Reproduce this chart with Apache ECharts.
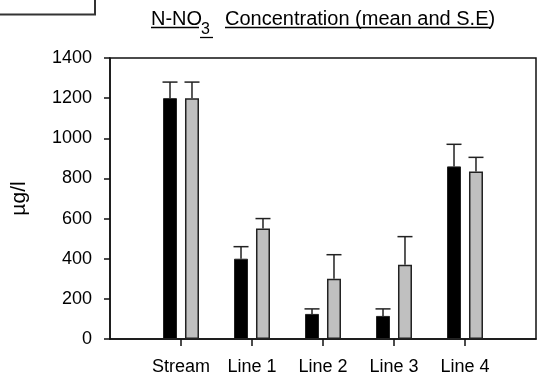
<!DOCTYPE html>
<html>
<head>
  <meta charset="UTF-8">
  <title>N-NO3 Concentration</title>
  <style>
    html, body { margin: 0; padding: 0; background: #fff; }
    #chart { width: 539px; height: 381px; }
  </style>
</head>
<body>
  <div id="chart"></div>
  <script src="https://cdn.jsdelivr.net/npm/echarts@6/dist/echarts.min.js"></script>
  <script>
    // sites along the x axis
    const sites = ['Stream', 'Line 1', 'Line 2', 'Line 3', 'Line 4'];
    // black bars: mean and S.E
    const meanBlack = [1200, 400, 125, 115, 860];
    const seBlack = [80, 60, 25, 35, 110];
    // grey bars: mean and S.E
    const meanGrey = [1200, 550, 300, 370, 835];
    const seGrey = [80, 50, 120, 140, 70];
    const yTicks = [0, 200, 400, 600, 800, 1000, 1200, 1400];

    // one empty slot before and after, like the original frame
    const categories = [''].concat(sites, ['']);

    const font = 'Liberation Sans, Arial, sans-serif';
    const barWidth = 14;
    const barGap = 0.57;
    const shift = barWidth * (1 + barGap) / 2;
    const capWidth = 15;

    function barData(means) {
      return means.map((m, i) => [i + 1, m]);
    }

    function errorSeries(means, errs, dx) {
      return {
        type: 'custom',
        encode: { x: 0, y: 1 },
        z: 1,
        renderItem(params, api) {
          const base = api.coord([api.value(0), api.value(1)]);
          const tip = api.coord([api.value(0), api.value(1) + api.value(2)]);
          const x = base[0] + dx;
          const style = { stroke: '#222', lineWidth: 1.5 };
          return {
            type: 'group',
            children: [
              { type: 'line', shape: { x1: x, y1: base[1], x2: x, y2: tip[1] }, style },
              { type: 'line', shape: { x1: x - capWidth / 2, y1: tip[1], x2: x + capWidth / 2, y2: tip[1] }, style }
            ]
          };
        },
        data: means.map((m, i) => [i + 1, m, errs[i]])
      };
    }

    const chart = echarts.init(document.getElementById('chart'));

    const underline = { stroke: '#000', lineWidth: 1.3 };

    chart.setOption({
      backgroundColor: '#fff',
      animation: false,
      grid: {
        left: 110, right: -2, top: 58, bottom: 42,
        show: true, borderColor: '#111', borderWidth: 1.5
      },
      graphic: [
        // corner of a box cut off at the top left
        { type: 'rect', shape: { x: -5, y: -5, width: 100, height: 19.5 }, style: { fill: 'none', stroke: '#333', lineWidth: 2 } },
        // title with subscript and underline
        { type: 'text', left: 151, top: 9, style: { text: 'N-NO', font: '20px ' + font, fill: '#000' } },
        { type: 'text', left: 201, top: 22, style: { text: '3', font: '16px ' + font, fill: '#000' } },
        { type: 'text', left: 225, top: 9, style: { text: 'Concentration (mean and S.E)', font: '20px ' + font, fill: '#000' } },
        { type: 'line', shape: { x1: 151, y1: 27.5, x2: 199, y2: 27.5 }, style: underline },
        { type: 'line', shape: { x1: 200, y1: 37.5, x2: 213, y2: 37.5 }, style: underline },
        { type: 'line', shape: { x1: 225, y1: 27.5, x2: 491, y2: 27.5 }, style: underline }
      ],
      xAxis: {
        type: 'category',
        data: categories,
        boundaryGap: false,
        axisLine: { lineStyle: { color: '#111', width: 1.5 } },
        axisTick: { length: 7, interval: (i) => i > 0 && i < categories.length - 1, lineStyle: { color: '#111', width: 1.5 } },
        axisLabel: { interval: 0, margin: 19, color: '#000', fontSize: 18, fontFamily: font },
        splitLine: { show: false }
      },
      yAxis: {
        type: 'value',
        min: yTicks[0],
        max: yTicks[yTicks.length - 1],
        interval: 200,
        name: 'µg/l',
        nameLocation: 'middle',
        nameGap: 80,
        nameTextStyle: { color: '#000', fontSize: 21, fontFamily: font },
        axisLine: { show: true, lineStyle: { color: '#111', width: 1.5 } },
        axisTick: { show: true, length: 6, lineStyle: { color: '#111', width: 1.5 } },
        axisLabel: { margin: 18, color: '#000', fontSize: 18, fontFamily: font, formatter: (v) => String(v) },
        splitLine: { show: false }
      },
      series: [
        {
          type: 'bar',
          data: barData(meanBlack),
          barWidth: barWidth,
          barGap: (barGap * 100) + '%',
          itemStyle: { color: '#000', borderColor: '#222', borderWidth: 1 },
          z: 2
        },
        {
          type: 'bar',
          data: barData(meanGrey),
          barWidth: barWidth,
          itemStyle: { color: '#c0c0c0', borderColor: '#222', borderWidth: 1.5 },
          z: 2
        },
        errorSeries(meanBlack, seBlack, -shift),
        errorSeries(meanGrey, seGrey, shift)
      ]
    });
  </script>
</body>
</html>
